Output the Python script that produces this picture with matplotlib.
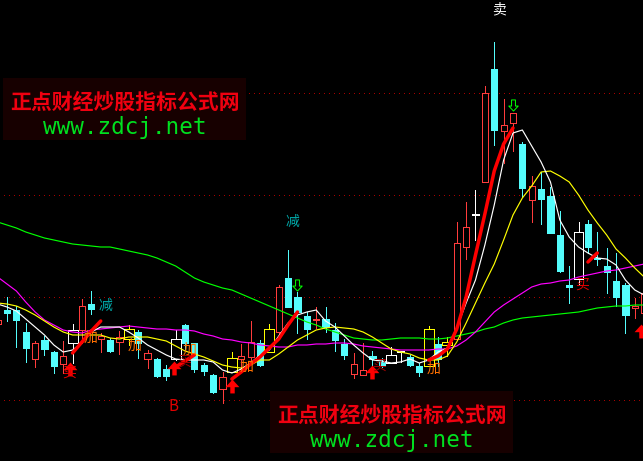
"""K-line chart with moving averages and buy/sell marks."""

import matplotlib

matplotlib.use("Agg")  # headless
import matplotlib.pyplot as plt  # noqa: E402
from matplotlib.path import Path  # noqa: E402
from matplotlib.patches import Rectangle  # noqa: E402

plt.rcParams["font.family"] = ["Noto Sans CJK SC", "DejaVu Sans"]

# candles run from index -1 to 68; y values are screen-price readings, top is high
first_index = -1
kinds = [
    "r", "c", "c", "c", "r", "c", "c", "r", "w", "r", "c", "r", "c", "r", "y", "c",
    "r", "c", "c", "w", "c", "c", "c", "c", "r", "y", "r", "r", "c", "y", "r", "c",
    "c", "c", "r", "c", "c", "c", "r", "r", "c", "c", "w", "w", "c", "c", "y", "c",
    "y", "r", "r", "w", "r", "c", "r", "r", "c", "r", "c", "c", "c", "c", "w", "c",
    "c", "c", "c", "c", "r", "r",
]
body_top = [
    320, 310, 310, 332, 343, 340, 352, 356, 330, 306, 304, 336, 340, 337, 329, 332,
    353, 359, 369, 339, 325, 343, 365, 375, 377, 358, 356, 342, 343, 329, 287, 278,
    297, 316, 319, 319, 330, 344, 364, 370, 356, 362, 355, 351, 357, 366, 329, 344,
    342, 243, 227, 214, 93, 69, 125, 113, 144, 186, 189, 196, 235, 285, 232, 224,
    258, 266, 281, 285, 306, 293,
]
body_bottom = [
    324, 313, 320, 348, 359, 349, 366, 364, 343, 330, 309, 339, 351, 342, 339, 343,
    359, 376, 376, 359, 343, 369, 371, 392, 389, 372, 359, 357, 365, 352, 332, 307,
    312, 329, 320, 327, 340, 355, 374, 375, 359, 366, 363, 352, 365, 372, 366, 359,
    345, 339, 247, 215, 182, 130, 131, 123, 188, 200, 199, 233, 271, 287, 279, 247,
    259, 272, 297, 315, 308, 313,
]
high = [
    318, 297, 306, 323, 341, 336, 351, 341, 324, 299, 291, 333, 338, 331, 325, 330,
    350, 358, 365, 330, 324, 343, 363, 374, 372, 352, 344, 321, 340, 324, 285, 250,
    292, 312, 307, 307, 323, 339, 353, 343, 351, 358, 347, 351, 355, 363, 326, 337,
    337, 222, 202, 190, 86, 42, 99, 113, 142, 176, 172, 187, 211, 266, 222, 220,
    232, 248, 253, 283, 298, 290,
]
low = [
    326, 321, 347, 362, 367, 355, 373, 373, 363, 343, 314, 352, 352, 354, 345, 358,
    368, 377, 380, 360, 350, 372, 375, 393, 403, 372, 372, 363, 366, 352, 335, 307,
    333, 339, 328, 332, 351, 359, 378, 375, 367, 367, 363, 362, 366, 376, 366, 366,
    356, 340, 259, 240, 182, 145, 163, 151, 197, 222, 224, 233, 272, 303, 284, 253,
    265, 293, 306, 333, 318, 320,
]

ma_white = [
    304, 307, 311, 319, 327, 335, 345, 352, 350, 343, 332, 327, 327, 327, 332, 338,
    345, 350, 355, 359, 360, 360, 360, 362, 370, 373, 369, 363, 355, 350, 336, 323,
    315, 312, 310, 321, 327, 336, 345, 353, 360, 361, 363, 362, 359, 363, 360, 352,
    348, 328, 303, 280, 245, 205, 160, 133, 130, 146, 162, 182, 220, 237, 247, 253,
    258, 259, 265, 280, 290, 295,
]
ma_yellow = [
    303, 304, 306, 310, 315, 321, 327, 332, 335, 335, 335, 335, 338, 339, 337, 337,
    337, 339, 341, 346, 351, 354, 357, 361, 365, 367, 368, 365, 360, 360, 354, 347,
    340, 335, 330, 328, 327, 328, 329, 332, 337, 343, 349, 352, 354, 358, 360, 360,
    356, 342, 323, 303, 283, 264, 240, 215, 198, 186, 172, 171, 176, 182, 195, 210,
    223, 235, 249, 258, 268, 277,
]
ma_magenta = [
    277, 284, 291, 302, 312, 320, 325, 330, 332, 333, 330, 329, 328, 327, 326, 327,
    328, 329, 329, 330, 330, 331, 334, 336, 339, 340, 342, 343, 345, 346, 347, 347,
    345, 345, 344, 344, 343, 343, 344, 346, 347, 348, 349, 350, 350, 350, 350, 349,
    349, 346, 340, 332, 322, 312, 305, 299, 293, 287, 284, 283, 281, 280, 277, 275,
    273, 271, 270, 268, 266, 264,
]
ma_green = [
    222, 225, 228, 232, 235, 238, 240, 242, 244, 245, 246, 247, 247, 249, 251, 253,
    255, 258, 262, 266, 272, 278, 282, 285, 288, 290, 294, 298, 302, 306, 310, 314,
    318, 322, 325, 329, 332, 335, 338, 339, 340, 340, 339, 338, 338, 338, 339, 339,
    338, 336, 334, 332, 329, 327, 323, 320, 318, 317, 316, 315, 314, 313, 312, 310,
    308, 307, 306, 306, 305, 305,
]

# thick red rising strokes: (candle indices, values)
stroke_idx = [
    [7, 8, 9, 10],
    [18, 19, 20],
    [24, 25, 26, 27, 28, 29, 30, 31],
    [45, 46, 47, 48, 49, 50, 51, 52, 53, 54],
    [62, 63],
]
stroke_val = [
    [353, 342, 331, 321],
    [367, 361, 355],
    [379, 372, 364, 357, 348, 339, 325, 312],
    [360, 356, 349, 329, 297, 255, 214, 171, 144, 128],
    [262, 253],
]

grid_levels = [93, 195, 297, 400]

up_idx = [6.7, 17.8, 24, 39, 67.7]
up_val = [369, 367.5, 385.5, 372, 330.5]
down_idx = [31, 54]
down_val = [284.5, 105.5]

label_texts = ["卖", "减", "减", "买", "买", "买", "B", "加", "加", "加", "加", "加", "买"]
label_idx = [52.5, 30.5, 10.5, 6.6, 61.4, 39.7, 17.8, 8.9, 13.6, 19.5, 25.6, 45.5, 18.9]
label_val = [9, 222, 306, 373, 285, 366, 406, 338, 346, 350, 367, 369, 362]
label_sizes = [10, 10, 10, 10, 10, 10, 11, 10, 10, 10, 10, 10, 10]
label_colors = [
    "#ffffff", "#00a8a8", "#00a8a8", "#e00000", "#e00000", "#a00000", "#e00000",
    "#ff7000", "#ff7000", "#ff7000", "#ff7000", "#ff7000", "#a00000",
]

banner_title = "正点财经炒股指标公式网"
banner_url = "www.zdcj.net"
banner_left = [3, 270]
banner_top = [78, 391]

RED = "#ff3c3c"
CYAN = "#54fcfc"
EDGE = {"r": RED, "c": CYAN, "w": "#ffffff", "y": "#ffff00"}
LW = 0.72  # one pixel

PX0 = 7.0  # pixel of candle index 0
STEP = 9.37  # pixels per candle

UP_ARROW = Path(
    [(-0.32, -1), (0.32, -1), (0.32, -0.1), (1, -0.1), (0, 1), (-1, -0.1), (-0.32, -0.1), (-0.32, -1)],
    closed=True,
)
DOWN_ARROW = Path(
    [(-0.35, 1), (0.35, 1), (0.35, -0.1), (0.85, -0.1), (0, -1), (-0.85, -0.1), (-0.35, -0.1), (-0.35, 1)],
    closed=True,
)


def draw_candles(ax):
    for i, kind in enumerate(kinds):
        x = first_index + i
        color = EDGE[kind]
        hollow = kind != "c"
        ax.vlines(x, high[i], low[i], color=color, lw=LW, antialiased=False, zorder=2)
        height = max(body_bottom[i] - body_top[i], 1)
        # white and yellow bodies are drawn wider than the rest
        wide = kind in "wy" and height >= 3
        ax.bar(
            x,
            height,
            bottom=body_top[i],
            width=1.05 if wide else 0.66,
            facecolor="#000000" if hollow else color,
            edgecolor=color,
            linewidth=LW,
            antialiased=False,
            zorder=3,
        )


def draw_banner(ax, left, top):
    # banner boxes are placed in pixels, same units as the y axis
    x0 = (left - PX0) / STEP
    w = 243 / STEP
    ax.add_patch(Rectangle((x0, top), w, 62, facecolor="#170000", edgecolor="none", zorder=8))
    ax.text(
        x0 + w / 2, top + 24, banner_title, color="#f00010", fontsize=15, weight="bold",
        ha="center", va="center", zorder=9,
    )
    ax.text(
        x0 + w / 2, top + 49, banner_url, color="#00e020", fontsize=16.3, ha="center",
        va="center", family="DejaVu Sans Mono", zorder=9,
    )


fig = plt.figure(figsize=(6.43, 4.61), dpi=100, facecolor="#000000")
ax = fig.add_axes([0, 0, 1, 1], facecolor="#000000")
ax.set_xlim(-PX0 / STEP, (643 - PX0) / STEP)
ax.set_ylim(461, 0)
ax.set_axis_off()

ax.hlines(
    grid_levels, -2, 70, color="#a80000", lw=LW, linestyles=(0, (1, 5)), antialiased=False,
    zorder=1,
)
draw_candles(ax)

xs = [first_index + i for i in range(len(kinds))]
for vals, color in [
    (ma_green, "#00ff00"),
    (ma_magenta, "#ff00ff"),
    (ma_yellow, "#ffff00"),
    (ma_white, "#ffffff"),
]:
    ax.plot(xs, vals, color=color, lw=0.85, zorder=4)

for idx, val in zip(stroke_idx, stroke_val):
    ax.plot(idx, val, color="#ff0000", lw=2.5, solid_capstyle="round", zorder=5)

ax.plot(up_idx, up_val, ls="", marker=UP_ARROW, ms=10, mfc="#ff0000", mec="#ff0000", mew=0, zorder=6)
ax.plot(down_idx, down_val, ls="", marker=DOWN_ARROW, ms=8, mfc="none", mec="#00ff00", mew=LW, zorder=6)

for text, i, v, c, s in zip(label_texts, label_idx, label_val, label_colors, label_sizes):
    ax.text(i, v, text, color=c, fontsize=s, ha="center", va="center", zorder=7)

for left, top in zip(banner_left, banner_top):
    draw_banner(ax, left, top)

fig.savefig("out.png", dpi=100, facecolor="#000000")
